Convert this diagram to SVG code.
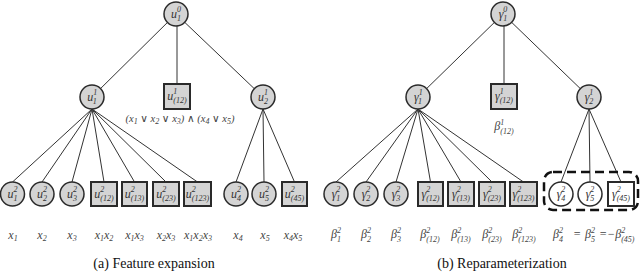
<svg xmlns="http://www.w3.org/2000/svg" width="640" height="273" viewBox="0 0 640 273">
<style>
.n{fill:#d4d4d4;stroke:#2a2a2a;stroke-width:1.5}
.s{fill:#d4d4d4;stroke:#2a2a2a;stroke-width:2}
.w{fill:#fff;stroke:#2a2a2a;stroke-width:1.5}
.ws{fill:#fff;stroke:#2a2a2a;stroke-width:2}
.e{stroke:#333;stroke-width:1;fill:none}
.t{font-family:"Liberation Serif","DejaVu Serif",serif;font-style:italic;font-size:12px;fill:#333;text-anchor:middle}
.l{font-family:"Liberation Serif","DejaVu Serif",serif;font-style:italic;font-size:12px;fill:#444;text-anchor:middle}
.ls{font-family:"Liberation Serif","DejaVu Serif",serif;font-style:italic;font-size:12px;fill:#444;text-anchor:start}
.f{font-family:"Liberation Serif","DejaVu Serif",serif;font-style:italic;font-size:10.5px;fill:#444;text-anchor:middle}
.c{font-family:"Liberation Serif",serif;font-size:14px;fill:#111;text-anchor:middle}
.p{font-size:8px}
</style>
<rect width="640" height="273" fill="#fff"/>
<g id="connectors">
<line class="e" x1="176" y1="14" x2="92" y2="97"/>
<line class="e" x1="177" y1="26" x2="177" y2="84"/>
<line class="e" x1="176" y1="14" x2="263" y2="97"/>
<line class="e" x1="92" y1="109" x2="12.5" y2="182"/>
<line class="e" x1="92" y1="109" x2="42" y2="182"/>
<line class="e" x1="92" y1="109" x2="72" y2="182"/>
<line class="e" x1="92" y1="109" x2="104" y2="182"/>
<line class="e" x1="92" y1="109" x2="134.5" y2="182"/>
<line class="e" x1="92" y1="109" x2="166" y2="182"/>
<line class="e" x1="92" y1="109" x2="197.5" y2="182"/>
<line class="e" x1="263" y1="109" x2="236" y2="182"/>
<line class="e" x1="263" y1="109" x2="264" y2="182"/>
<line class="e" x1="263" y1="109" x2="294.5" y2="182"/>
<line class="e" x1="503" y1="14" x2="418" y2="97"/>
<line class="e" x1="504" y1="26" x2="504" y2="84"/>
<line class="e" x1="503" y1="14" x2="589" y2="97"/>
<line class="e" x1="418" y1="109" x2="336" y2="182"/>
<line class="e" x1="418" y1="109" x2="366" y2="182"/>
<line class="e" x1="418" y1="109" x2="396" y2="182"/>
<line class="e" x1="418" y1="109" x2="430.5" y2="182"/>
<line class="e" x1="418" y1="109" x2="461" y2="182"/>
<line class="e" x1="418" y1="109" x2="492" y2="182"/>
<line class="e" x1="418" y1="109" x2="523.5" y2="182"/>
<line class="e" x1="589" y1="109" x2="561" y2="182"/>
<line class="e" x1="589" y1="109" x2="590" y2="182"/>
<line class="e" x1="589" y1="109" x2="621" y2="182"/>
</g>
<g id="u0_1"><circle class="n" cx="176" cy="14" r="12"/><text class="t" x="176" y="17.5">u<tspan class="p" dy="-5.5">0</tspan><tspan class="p" dx="-4" dy="9">1</tspan></text></g>
<g id="u1_1"><circle class="n" cx="92" cy="97" r="12"/><text class="t" x="92" y="100.5">u<tspan class="p" dy="-5.5">1</tspan><tspan class="p" dx="-4" dy="9">1</tspan></text></g>
<g id="u1_12"><rect class="s" x="164" y="84" width="26" height="25"/><text class="t" x="177" y="99.5">u<tspan class="p" dy="-5.5">1</tspan><tspan class="p" dx="-4" dy="9">(12)</tspan></text></g>
<g id="u1_2"><circle class="n" cx="263" cy="97" r="12"/><text class="t" x="263" y="100.5">u<tspan class="p" dy="-5.5">1</tspan><tspan class="p" dx="-4" dy="9">2</tspan></text></g>
<text class="f" x="180" y="122">(x<tspan class="p" dy="2">1</tspan><tspan dy="-2"> ∨ x</tspan><tspan class="p" dy="2">2</tspan><tspan dy="-2"> ∨ x</tspan><tspan class="p" dy="2">3</tspan><tspan dy="-2">) ∧ (x</tspan><tspan class="p" dy="2">4</tspan><tspan dy="-2"> ∨ x</tspan><tspan class="p" dy="2">5</tspan><tspan dy="-2">)</tspan></text>
<g id="u2_1"><circle class="n" cx="12.5" cy="194" r="12"/><text class="t" x="12.5" y="197.5">u<tspan class="p" dy="-5.5">2</tspan><tspan class="p" dx="-4" dy="9">1</tspan></text></g>
<g id="u2_2"><circle class="n" cx="42" cy="194" r="12"/><text class="t" x="42" y="197.5">u<tspan class="p" dy="-5.5">2</tspan><tspan class="p" dx="-4" dy="9">2</tspan></text></g>
<g id="u2_3"><circle class="n" cx="72" cy="194" r="12"/><text class="t" x="72" y="197.5">u<tspan class="p" dy="-5.5">2</tspan><tspan class="p" dx="-4" dy="9">3</tspan></text></g>
<g id="u2_12"><rect class="s" x="91" y="182" width="26" height="24"/><text class="t" x="104" y="197.5">u<tspan class="p" dy="-5.5">2</tspan><tspan class="p" dx="-4" dy="9">(12)</tspan></text></g>
<g id="u2_13"><rect class="s" x="122" y="182" width="25" height="24"/><text class="t" x="134.5" y="197.5">u<tspan class="p" dy="-5.5">2</tspan><tspan class="p" dx="-4" dy="9">(13)</tspan></text></g>
<g id="u2_23"><rect class="s" x="153" y="182" width="26" height="24"/><text class="t" x="166" y="197.5">u<tspan class="p" dy="-5.5">2</tspan><tspan class="p" dx="-4" dy="9">(23)</tspan></text></g>
<g id="u2_123"><rect class="s" x="184" y="182" width="27" height="24"/><text class="t" x="197.5" y="197.5">u<tspan class="p" dy="-5.5">2</tspan><tspan class="p" dx="-4" dy="9">(123)</tspan></text></g>
<g id="u2_4"><circle class="n" cx="236" cy="194" r="12"/><text class="t" x="236" y="197.5">u<tspan class="p" dy="-5.5">2</tspan><tspan class="p" dx="-4" dy="9">4</tspan></text></g>
<g id="u2_5"><circle class="n" cx="264" cy="194" r="12"/><text class="t" x="264" y="197.5">u<tspan class="p" dy="-5.5">2</tspan><tspan class="p" dx="-4" dy="9">5</tspan></text></g>
<g id="u2_45"><rect class="s" x="282" y="182" width="25" height="24"/><text class="t" x="294.5" y="197.5">u<tspan class="p" dy="-5.5">2</tspan><tspan class="p" dx="-4" dy="9">(45)</tspan></text></g>
<g id="xlabels">
<text class="l" x="13" y="239">x<tspan class="p" dy="2">1</tspan></text>
<text class="l" x="42" y="239">x<tspan class="p" dy="2">2</tspan></text>
<text class="l" x="72" y="239">x<tspan class="p" dy="2">3</tspan></text>
<text class="l" x="104" y="239">x<tspan class="p" dy="2">1</tspan><tspan dy="-2">x</tspan><tspan class="p" dy="2">2</tspan></text>
<text class="l" x="134.5" y="239">x<tspan class="p" dy="2">1</tspan><tspan dy="-2">x</tspan><tspan class="p" dy="2">3</tspan></text>
<text class="l" x="166" y="239">x<tspan class="p" dy="2">2</tspan><tspan dy="-2">x</tspan><tspan class="p" dy="2">3</tspan></text>
<text class="l" x="198" y="239">x<tspan class="p" dy="2">1</tspan><tspan dy="-2">x</tspan><tspan class="p" dy="2">2</tspan><tspan dy="-2">x</tspan><tspan class="p" dy="2">3</tspan></text>
<text class="l" x="238" y="239">x<tspan class="p" dy="2">4</tspan></text>
<text class="l" x="265" y="239">x<tspan class="p" dy="2">5</tspan></text>
<text class="l" x="293" y="239">x<tspan class="p" dy="2">4</tspan><tspan dy="-2">x</tspan><tspan class="p" dy="2">5</tspan></text>
</g>
<text class="c" x="154" y="268">(a) Feature expansion</text>
<g id="g0_1"><circle class="n" cx="503" cy="14" r="12"/><text class="t" x="503" y="17.5">γ<tspan class="p" dy="-5.5">0</tspan><tspan class="p" dx="-4" dy="9">1</tspan></text></g>
<g id="g1_1"><circle class="n" cx="418" cy="97" r="12"/><text class="t" x="418" y="100.5">γ<tspan class="p" dy="-5.5">1</tspan><tspan class="p" dx="-4" dy="9">1</tspan></text></g>
<g id="g1_12"><rect class="s" x="491" y="84" width="26" height="25"/><text class="t" x="504" y="99.5">γ<tspan class="p" dy="-5.5">1</tspan><tspan class="p" dx="-4" dy="9">(12)</tspan></text></g>
<g id="g1_2"><circle class="n" cx="589" cy="97" r="12"/><text class="t" x="589" y="100.5">γ<tspan class="p" dy="-5.5">1</tspan><tspan class="p" dx="-4" dy="9">2</tspan></text></g>
<text class="l" x="504" y="130">β<tspan class="p" dy="-5.5">1</tspan><tspan class="p" dx="-4" dy="9">(12)</tspan></text>
<g id="g2_1"><circle class="n" cx="336" cy="194" r="12"/><text class="t" x="336" y="197.5">γ<tspan class="p" dy="-5.5">2</tspan><tspan class="p" dx="-4" dy="9">1</tspan></text></g>
<g id="g2_2"><circle class="n" cx="366" cy="194" r="12"/><text class="t" x="366" y="197.5">γ<tspan class="p" dy="-5.5">2</tspan><tspan class="p" dx="-4" dy="9">2</tspan></text></g>
<g id="g2_3"><circle class="n" cx="396" cy="194" r="12"/><text class="t" x="396" y="197.5">γ<tspan class="p" dy="-5.5">2</tspan><tspan class="p" dx="-4" dy="9">3</tspan></text></g>
<g id="g2_12"><rect class="s" x="418" y="182" width="25" height="24"/><text class="t" x="430.5" y="197.5">γ<tspan class="p" dy="-5.5">2</tspan><tspan class="p" dx="-4" dy="9">(12)</tspan></text></g>
<g id="g2_13"><rect class="s" x="448" y="182" width="26" height="24"/><text class="t" x="461" y="197.5">γ<tspan class="p" dy="-5.5">2</tspan><tspan class="p" dx="-4" dy="9">(13)</tspan></text></g>
<g id="g2_23"><rect class="s" x="479" y="182" width="26" height="24"/><text class="t" x="492" y="197.5">γ<tspan class="p" dy="-5.5">2</tspan><tspan class="p" dx="-4" dy="9">(23)</tspan></text></g>
<g id="g2_123"><rect class="s" x="510" y="182" width="27" height="24"/><text class="t" x="523.5" y="197.5">γ<tspan class="p" dy="-5.5">2</tspan><tspan class="p" dx="-4" dy="9">(123)</tspan></text></g>
<g id="group45"><rect x="544" y="172" width="94" height="38" rx="9" fill="none" stroke="#111" stroke-width="2.5" stroke-dasharray="9,5"/></g>
<g id="g2_4"><circle class="w" cx="561" cy="194" r="12"/><text class="t" x="561" y="197.5">γ<tspan class="p" dy="-5.5">2</tspan><tspan class="p" dx="-4" dy="9">4</tspan></text></g>
<g id="g2_5"><circle class="w" cx="590" cy="194" r="12"/><text class="t" x="590" y="197.5">γ<tspan class="p" dy="-5.5">2</tspan><tspan class="p" dx="-4" dy="9">5</tspan></text></g>
<g id="g2_45"><rect class="ws" x="608" y="182" width="26" height="24"/><text class="t" x="621" y="197.5">γ<tspan class="p" dy="-5.5">2</tspan><tspan class="p" dx="-4" dy="9">(45)</tspan></text></g>
<g id="blabels">
<text class="l" x="336" y="238">β<tspan class="p" dy="-5.5">2</tspan><tspan class="p" dx="-4" dy="9">1</tspan></text>
<text class="l" x="366" y="238">β<tspan class="p" dy="-5.5">2</tspan><tspan class="p" dx="-4" dy="9">2</tspan></text>
<text class="l" x="396" y="238">β<tspan class="p" dy="-5.5">2</tspan><tspan class="p" dx="-4" dy="9">3</tspan></text>
<text class="l" x="430" y="238">β<tspan class="p" dy="-5.5">2</tspan><tspan class="p" dx="-4" dy="9">(12)</tspan></text>
<text class="l" x="461" y="238">β<tspan class="p" dy="-5.5">2</tspan><tspan class="p" dx="-4" dy="9">(13)</tspan></text>
<text class="l" x="492" y="238">β<tspan class="p" dy="-5.5">2</tspan><tspan class="p" dx="-4" dy="9">(23)</tspan></text>
<text class="l" x="524" y="238">β<tspan class="p" dy="-5.5">2</tspan><tspan class="p" dx="-4" dy="9">(123)</tspan></text>
<text class="ls" x="553" y="238">β<tspan class="p" dy="-5.5">2</tspan><tspan class="p" dx="-4" dy="9">4</tspan><tspan x="573" dy="-3.5">=</tspan><tspan x="585">β</tspan><tspan class="p" dy="-5.5">2</tspan><tspan class="p" dx="-4" dy="9">5</tspan><tspan x="599" dy="-3.5">=−β</tspan><tspan class="p" dy="-5.5">2</tspan><tspan class="p" dx="-4" dy="9">(45)</tspan></text>
</g>
<text class="c" x="502" y="268">(b) Reparameterization</text>
</svg>
